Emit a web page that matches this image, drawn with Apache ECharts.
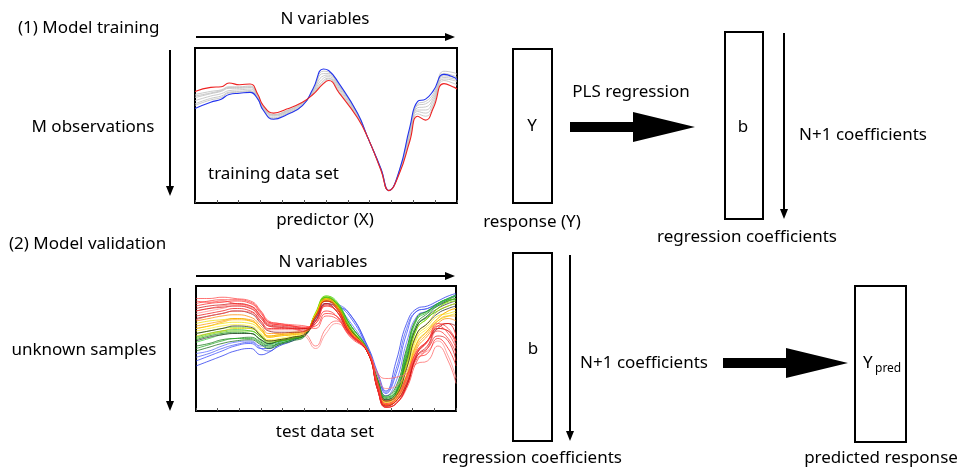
<!DOCTYPE html>
<html><head><meta charset="utf-8">
<script src="https://cdn.jsdelivr.net/npm/echarts@6/dist/echarts.min.js"></script>
<style>html,body{margin:0;padding:0;background:#fff}#c{width:963px;height:468px}</style>
</head><body><div id="c"></div>
<script>
// ---- training spectra (top panel) ----
const trainX = [0,6,10,13,17,21,24,26,30,35,41,45,49,51,55,62,66,71,74,78,82,85,88,91,95,99,100];
const trainRed  = [72,74.6,75,77.4,76.3,76.8,70,63,58,60.6,65,70,77,79,71,55,42,21,8,19,40,56,53.5,61.5,77,74.6,73.5];
const trainBlue = [61,65,67,70,70.8,71.4,67,60,54,57,62.8,73.5,86.5,85.5,77,58,42,22,8,21,49,65.6,67,72.5,83,81,79.4];
const trainGrey1 = [70,72,73,75,75,75.5,69,62,57,59.5,64.5,71,79,80.5,73,56,42,21.5,8,20,43,59,58,64,79,77,76];
const trainGrey2 = [68,70.5,72,74,74,74.5,68.5,61.5,56.5,59,64,71.5,80.5,81.5,74,56.5,42,21.5,8,20,44,60,60,66,80,79,78];
const trainGrey3 = [66,69,70.5,72.5,73,73.5,68,61,56,58.5,63.5,72,82,82.5,75,57,42,21.5,8,20.5,45,61.5,62,67.5,81,80,79];
const trainGrey4 = [64,67.5,69,71.5,72,72.5,67.5,60.5,55,58,63,72.5,83.5,83.5,75.5,57.5,42,22,8,20.5,46.5,63,64,69,82,81,80];
const trainGrey5 = [63,66.5,68,71,71.5,72,67,60,54.5,57.5,62.8,73,85,84.5,76,58,42,22,8,21,47.5,64,65.5,70.5,83.5,82,81];
const trainGrey6 = [69,71,72.5,74.5,74.5,75,69,62,57,59.5,64.5,70.5,78,80,72,55.5,42,21,8,19.5,41.5,57.5,56,63,85,84,83];

// ---- test spectra (bottom panel) ----
const testX = [0,5,10,15,21,25,28,32,37,42,46,50,54,59,66,70,73,77,81,85,89,93,97,100];
const testB1 = [36,40,44,48,50,45,47,52,56,62,72,86,84,78,52,30,16,40,70,82,84,88,92,94];
const testB2 = [40,44,48,52,54,50,50,55,58,62,75,90,85,76,50,28,14,30,62,80,82,86,90,92];
const testB3 = [46,48,52,55,56,52,53,56,58,62,76,88,84,72,49,24,12,24,55,76,80,84,88,90];
const testB4 = [43,46,50,53,55,50,48,53,57,62,74,88,86,78,51,28,15,34,66,80,82,86,90,93];
const testG1 = [59,62,64,65,64,59,54,56,58,62,78,91,86,67,48,24,11,16,46,73,79,86,89,89];
const testG2 = [55,58,61,62,62,56,53,55,58,62,78,92,88,70,48,22,9,14,40,68,76,85,90,92];
const testG3 = [52,54,57,58,59,55,52,54,57,61,77,90,86,68,47,23,10,16,44,70,78,84,88,90];
const testG4 = [62,64,66,67,66,61,56,57,59,62,79,92,87,68,48,22,8,13,38,66,74,82,87,88];
const testG5 = [57,60,62,63,62,57,54,56,58,61,77,90,85,66,47,22,9,15,42,68,75,80,84,86];
const testG6 = [50,53,56,58,58,54,51,54,57,61,77,91,87,70,49,24,11,18,48,74,80,86,90,93];
const testG7 = [48,51,54,56,57,53,50,53,56,60,76,90,86,70,49,25,12,20,50,75,80,85,89,92];
const testG8 = [58,61,63,64,64,59,55,56,58,62,78,91,86,67,48,22,8,13,38,66,74,82,88,90];
const testY1 = [66,68,70,71,70,64,59,60,61,63,78,90,85,66,48,20,7,12,34,60,68,76,78,80];
const testY2 = [64,66,68,69,68,62,57,58,60,63,77,89,84,65,47,20,6,11,30,58,66,74,80,82];
const testY3 = [70,72,73,74,72,66,60,61,62,64,76,88,83,64,47,18,5,10,28,55,64,72,76,78];
const testY4 = [60,62,64,66,66,60,56,57,59,62,77,90,85,66,48,21,7,12,36,62,70,80,84,86];
const testK1 = [62,64,66,68,67,60,56,57,59,62,76,88,84,66,48,21,8,12,34,62,70,78,82,84];
const testK2 = [74,76,78,80,78,70,64,63,63,64,74,86,80,62,47,16,4,8,22,46,56,66,70,68];
const testK3 = [56,59,61,62,62,57,54,56,58,61,77,90,85,67,48,23,9,14,40,68,76,82,86,88];
const testO1 = [72,74,76,77,75,68,62,62,63,64,75,88,82,63,47,17,4,8,24,50,60,70,74,72];
const testO2 = [68,70,72,74,73,66,60,61,62,64,76,89,84,65,48,19,5,10,28,54,64,74,80,82];
const testO3 = [66,68,71,73,72,65,59,60,61,63,76,89,84,65,48,19,5,9,26,52,62,72,76,76];
const testR1 = [88,87,88,86,84,76,70,69,68,67,72,84,80,63,48,16,3,6,18,40,50,64,58,46];
const testR2 = [84,86,87,88,86,78,71,70,68,66,70,80,76,60,47,18,5,8,20,42,46,58,50,36];
const testR3 = [80,82,84,85,83,75,68,67,66,62,52,66,72,62,48,30,26,27,30,38,40,52,40,22];
const testR4 = [90,90,91,90,88,80,72,70,69,68,66,76,74,61,48,20,6,10,25,46,55,68,62,50];
const testR5 = [78,80,82,84,82,74,68,67,66,60,50,62,70,62,48,28,18,20,32,44,48,56,44,26];
const testR6 = [76,78,80,82,80,72,66,66,66,66,76,88,83,64,47,16,3,6,20,46,56,68,70,60];
const testR7 = [82,84,85,86,84,76,69,68,67,66,72,85,80,62,47,16,3,6,20,44,52,66,64,56];
const testR8 = [86,88,89,89,87,79,71,69,68,67,68,78,76,61,48,22,8,12,28,48,56,70,66,56];
const testR9 = [73,76,78,80,79,71,65,65,65,64,70,84,80,63,48,20,6,10,26,48,56,66,64,52];
const testR10 = [80,82,83,84,82,74,68,67,66,65,72,86,82,63,47,17,4,8,22,44,50,60,56,40];

const FONT = '"Noto Sans", sans-serif';
const FS = 17;
const chart = echarts.init(document.getElementById('c'), null, {renderer: 'canvas'});

function mk(xs, ys, grid, color, width, opacity) {
  return {
    type: 'line', xAxisIndex: grid, yAxisIndex: grid, smooth: true, showSymbol: false,
    silent: true, animation: false,
    lineStyle: {color: color, width: width, opacity: opacity},
    data: xs.map((x, i) => [x, ys[i]])
  };
}

const series = [];
[trainGrey1, trainGrey2, trainGrey3, trainGrey4, trainGrey5, trainGrey6].forEach(a => series.push(mk(trainX, a, 0, '#c4c4c4', 1, 0.9)));
series.push(mk(trainX, trainBlue, 0, '#2233ee', 1.1, 1));
series.push(mk(trainX, trainRed, 0, '#ee2222', 1.1, 1));

const testSets = [
  [testB1, '#2233ee'], [testB2, '#3344ff'], [testB4, '#4455ee'], [testB3, '#5566ff'],
  [testG7, '#116611'], [testG3, '#117711'], [testG6, '#22aa22'], [testG5, '#118811'],
  [testG1, '#22bb22'], [testG2, '#33cc33'], [testK3, '#333333'], [testG8, '#66cc00'], [testG4, '#88dd00'],
  [testY4, '#ddd000'], [testY1, '#f0e000'], [testY2, '#ffee22'], [testY3, '#e8dc00'],
  [testK1, '#222222'], [testO3, '#ffaa00'], [testO2, '#ff9900'], [testO1, '#ff8800'], [testK2, '#881111'],
  [testR3, '#ff6666'], [testR5, '#ff8888'], [testR9, '#ff5555'], [testR2, '#ff2222'], [testR6, '#ee1111'],
  [testR10, '#dd2222'], [testR7, '#cc1111'], [testR8, '#ff3333'], [testR1, '#ff3333'], [testR4, '#ff4444']
];
testSets.forEach(([a, c]) => series.push(mk(testX, a, 1, c, 1, 0.75)));

function axX(i) {
  return {type: 'value', gridIndex: i, min: 0, max: 100, interval: 100 / 12,
    axisLine: {show: false}, axisLabel: {show: false}, splitLine: {show: false},
    axisTick: {show: true, inside: true, length: 3, lineStyle: {color: '#555'}}};
}
function axY(i) {
  return {type: 'value', gridIndex: i, min: 0, max: 100,
    axisLine: {show: false}, axisLabel: {show: false}, splitLine: {show: false}, axisTick: {show: false}};
}

function txt(s, x, y, align, size) {
  return {type: 'text', silent: true, x: x, y: y,
    style: {text: s, font: (size || FS) + 'px ' + FONT, fill: '#000',
      textAlign: align || 'center', textVerticalAlign: 'middle', align: align || 'center', verticalAlign: 'middle'}};
}
function box(x, y, w, h) {
  return {type: 'rect', silent: true, shape: {x: x, y: y, width: w, height: h},
    style: {fill: 'none', stroke: '#000', lineWidth: 2}};
}
function hArrow(x1, x2, y) {
  return [
    {type: 'line', silent: true, shape: {x1: x1, y1: y, x2: x2 - 8, y2: y}, style: {stroke: '#000', lineWidth: 2}},
    {type: 'polygon', silent: true, shape: {points: [[x2 - 10, y - 4], [x2, y], [x2 - 10, y + 4]]}, style: {fill: '#000'}}
  ];
}
function vArrow(x, y1, y2) {
  return [
    {type: 'line', silent: true, shape: {x1: x, y1: y1, x2: x, y2: y2 - 8}, style: {stroke: '#000', lineWidth: 2}},
    {type: 'polygon', silent: true, shape: {points: [[x - 4, y2 - 10], [x, y2], [x + 4, y2 - 10]]}, style: {fill: '#000'}}
  ];
}
function bigArrow(x1, xm, x2, y) {
  return {type: 'polygon', silent: true,
    shape: {points: [[x1, y - 5], [xm, y - 5], [xm, y - 15], [x2, y], [xm, y + 15], [xm, y + 5], [x1, y + 5]]},
    style: {fill: '#000'}};
}

const graphics = [
  txt('(1) Model training', 18, 28, 'left'),
  txt('N variables', 325, 19),
  ...hArrow(196, 455, 37),
  txt('M observations', 93, 127),
  ...vArrow(170, 50, 196),
  txt('training data set', 208, 174, 'left'),
  txt('predictor (X)', 325, 220),
  txt('(2) Model validation', 9, 244, 'left'),
  txt('N variables', 323, 262),
  ...hArrow(196, 455, 276),
  txt('unknown samples', 84, 350),
  ...vArrow(170, 288, 411),
  txt('test data set', 325, 432),
  box(513, 49, 39, 154),
  txt('Y', 532, 126),
  txt('response (Y)', 532, 222),
  txt('PLS regression', 631, 92),
  bigArrow(570, 633, 695, 127),
  box(725, 32, 38, 187),
  txt('b', 743, 127),
  ...vArrow(784, 33, 219),
  txt('N+1 coefficients', 863, 135),
  txt('regression coefficients', 747, 237),
  box(513, 253, 39, 188),
  txt('b', 533, 349),
  ...vArrow(570, 255, 441),
  txt('N+1 coefficients', 644, 363),
  bigArrow(723, 786, 848, 363),
  box(855, 286, 51, 156),
  txt('Y', 863, 363, 'left'),
  txt('pred', 875, 369, 'left', 12),
  txt('regression coefficients', 532, 458),
  txt('predicted response', 881, 458)
];

chart.setOption({
  animation: false,
  backgroundColor: '#fff',
  grid: [
    {left: 195, top: 48, width: 262, height: 155, show: true, borderColor: '#000', borderWidth: 2, backgroundColor: 'transparent'},
    {left: 196, top: 286, width: 260, height: 125, show: true, borderColor: '#000', borderWidth: 2, backgroundColor: 'transparent'}
  ],
  xAxis: [axX(0), axX(1)],
  yAxis: [axY(0), axY(1)],
  series: series,
  graphic: graphics
});
</script>
</body></html>
